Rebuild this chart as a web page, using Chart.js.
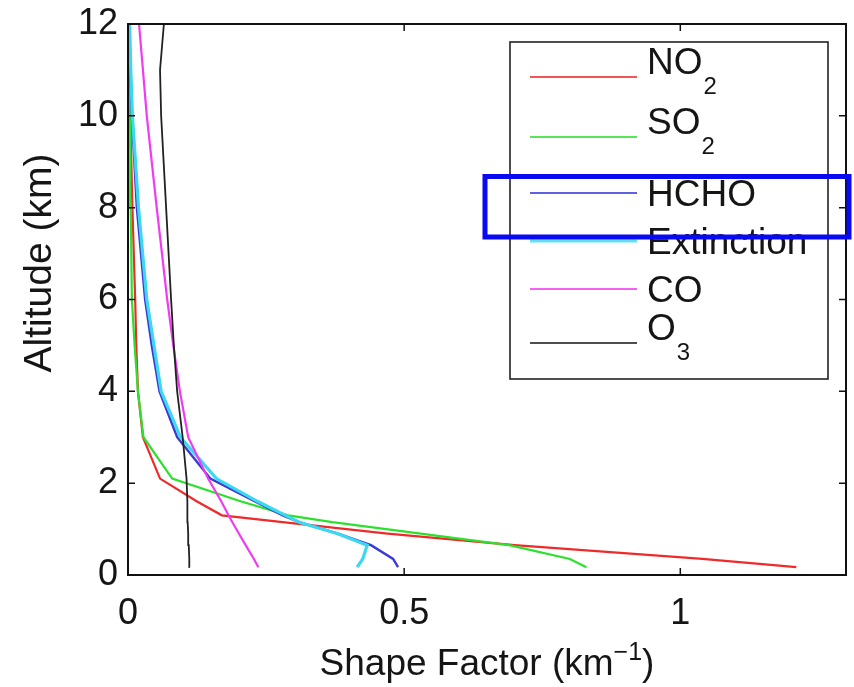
<!DOCTYPE html>
<html><head><meta charset="utf-8">
<script src="https://cdn.jsdelivr.net/npm/chart.js@4.4.0/dist/chart.umd.min.js"></script>
<style>html,body{margin:0;padding:0;background:#fff;overflow:hidden}#wrap{width:854px;height:687px;position:relative}canvas{display:block}</style>
</head><body><div id="wrap"><canvas id="c" width="854" height="687"></canvas></div>
<script>
// Altitude grid (km) shared by all profiles
const altitude   = [0.17, 0.35, 0.65, 0.9, 1.15, 1.3, 1.6, 2.1, 3.0, 4.0, 5.0, 6.0, 8.0, 10.0, 11.0, 12.0];
// Shape factor (km^-1) of each species at those altitudes
const no2        = [1.21, 1.04, 0.70, 0.47, 0.28, 0.17, 0.125, 0.058, 0.027, 0.018, 0.015, 0.013, 0.008, 0.004, 0.002, 0.001];
const so2        = [0.83, 0.80, 0.69, 0.53, 0.37, 0.29, 0.205, 0.080, 0.028, 0.018, 0.012, 0.007, 0.005, 0.004, 0.003, 0.003];
const hcho       = [0.489, 0.48, 0.44, 0.38, 0.31, 0.28, 0.23, 0.149, 0.089, 0.057, 0.043, 0.031, 0.016, 0.007, 0.004, 0.002];
const extinction = [0.415, 0.425, 0.433, 0.38, 0.31, 0.285, 0.235, 0.16, 0.095, 0.060, 0.047, 0.034, 0.019, 0.008, 0.005, 0.003];
const co         = [0.236, 0.228, 0.213, 0.201, 0.189, 0.182, 0.169, 0.145, 0.109, 0.094, 0.082, 0.071, 0.052, 0.034, 0.027, 0.020];
const o3         = [0.112, 0.111, 0.110, 0.109, 0.108, 0.108, 0.107, 0.106, 0.099, 0.089, 0.083, 0.078, 0.069, 0.060, 0.058, 0.065];

const seriesLabels = ['NO₂', 'SO₂', 'HCHO', 'Extinction', 'CO', 'O₃'];
const seriesValues = [no2, so2, hcho, extinction, co, o3];
const seriesColors = ['#ee2a2a', '#2ee02e', '#3a3ad8', '#3cd8f0', '#f03cf0', '#222222'];
const seriesWidths = [2.2, 2.2, 2.4, 3.2, 2.2, 1.8];

const xTicks = [0, 0.5, 1];
const yTicks = [0, 2, 4, 6, 8, 10, 12];
const xTitle = ['Shape Factor (km', '−1', ')'];
const yTitle = 'Altitude (km)';

const FONT = '"Liberation Sans", Arial, Helvetica, sans-serif';
Chart.defaults.font.family = FONT;

const subMap = {'₀':'0','₁':'1','₂':'2','₃':'3','₄':'4'};

function drawFrame(chart) {
  const ctx = chart.ctx, xs = chart.scales.x, ys = chart.scales.y;
  const left = Math.round(xs.getPixelForValue(xs.min)), right = Math.round(xs.getPixelForValue(xs.max));
  const top = Math.round(ys.getPixelForValue(ys.max)), bottom = Math.round(ys.getPixelForValue(ys.min));
  ctx.save();
  ctx.strokeStyle = '#111';
  ctx.lineWidth = 2;
  ctx.beginPath();
  ctx.moveTo(left, top); ctx.lineTo(right, top); ctx.lineTo(right, bottom);
  ctx.lineTo(left, bottom); ctx.closePath();
  ctx.stroke();
  ctx.lineWidth = 1.5;
  const L = 7;
  ctx.beginPath();
  xTicks.forEach(v => {
    const p = xs.getPixelForValue(v);
    ctx.moveTo(p, bottom); ctx.lineTo(p, bottom - L);
    ctx.moveTo(p, top); ctx.lineTo(p, top + L);
  });
  yTicks.forEach(v => {
    const p = ys.getPixelForValue(v);
    ctx.moveTo(left, p); ctx.lineTo(left + L, p);
    ctx.moveTo(right, p); ctx.lineTo(right - L, p);
  });
  ctx.stroke();
  ctx.restore();
}

const decor = {
  id: 'decor',
  afterDraw(chart) {
    drawFrame(chart);
    const ctx = chart.ctx, xs = chart.scales.x;
    ctx.save();
    // Legend
    const lx = 510, ly = 42, lw = 318, lh = 337;
    ctx.fillStyle = '#fff';
    ctx.fillRect(lx, ly, lw, lh);
    ctx.strokeStyle = '#222';
    ctx.lineWidth = 1.6;
    ctx.strokeRect(lx, ly, lw, lh);
    const rows = [35, 95, 151, 199, 247, 301];
    chart.data.datasets.forEach((ds, i) => {
      const ry = ly + rows[i];
      ctx.strokeStyle = ds.borderColor;
      ctx.globalAlpha = 0.8;
      ctx.lineWidth = i === 3 ? 3 : 2.2;
      ctx.beginPath(); ctx.moveTo(530, ry); ctx.lineTo(637, ry); ctx.stroke();
      ctx.globalAlpha = 1;
      ctx.fillStyle = '#151515';
      ctx.textAlign = 'left';
      ctx.textBaseline = 'alphabetic';
      const lab = ds.label;
      const last = lab[lab.length - 1];
      if (subMap[last]) {
        const main = lab.slice(0, -1);
        ctx.font = '37px ' + FONT;
        ctx.fillText(main, 647, ry - 3);
        const w = ctx.measureText(main).width;
        ctx.font = '24px ' + FONT;
        ctx.fillText(subMap[last], 647 + w + 1, ry + 17);
      } else {
        ctx.font = '37px ' + FONT;
        ctx.fillText(lab, 647, ry + 13);
      }
    });
    // X title with superscript
    ctx.fillStyle = '#151515';
    ctx.textBaseline = 'alphabetic';
    ctx.textAlign = 'left';
    ctx.font = '37px ' + FONT;
    const w1 = ctx.measureText(xTitle[0]).width;
    const w3 = ctx.measureText(xTitle[2]).width;
    ctx.font = '25px ' + FONT;
    const w2 = ctx.measureText(xTitle[1]).width;
    const total = w1 + w2 + w3;
    const cx = (xs.getPixelForValue(xs.min) + xs.getPixelForValue(xs.max)) / 2;
    let x0 = cx - total / 2;
    const base = 675;
    ctx.font = '37px ' + FONT;
    ctx.fillText(xTitle[0], x0, base);
    ctx.font = '25px ' + FONT;
    ctx.fillText(xTitle[1], x0 + w1, base - 15);
    ctx.font = '37px ' + FONT;
    ctx.fillText(xTitle[2], x0 + w1 + w2, base);
    // Y title
    ctx.save();
    ctx.translate(40, 263);
    ctx.rotate(-Math.PI / 2);
    ctx.font = '39px ' + FONT;
    ctx.textAlign = 'center';
    ctx.textBaseline = 'middle';
    ctx.fillText(yTitle, 0, 0);
    ctx.restore();
    // Highlight box around HCHO legend entry
    ctx.strokeStyle = '#0a0af2';
    ctx.lineWidth = 5;
    ctx.strokeRect(485, 176.5, 364, 60.5);
    ctx.restore();
  }
};

const datasets = seriesLabels.map((lab, i) => ({
  label: lab,
  data: altitude.map((alt, k) => ({x: seriesValues[i][k], y: alt})),
  borderColor: seriesColors[i],
  backgroundColor: seriesColors[i],
  borderWidth: seriesWidths[i],
  showLine: true,
  pointRadius: 0,
  tension: 0,
  fill: false,
  clip: false,
  order: -i
}));

new Chart(document.getElementById('c'), {
  type: 'scatter',
  data: { datasets },
  options: {
    responsive: false,
    animation: false,
    devicePixelRatio: 1,
    layout: { padding: { top: 24, right: 8, left: 0, bottom: 0 } },
    plugins: { legend: { display: false }, tooltip: { enabled: false } },
    scales: {
      x: {
        type: 'linear', min: 0, max: 1.3,
        grid: { display: false, drawTicks: false },
        border: { display: false },
        afterBuildTicks: s => { s.ticks = xTicks.map(v => ({ value: v })); },
        afterFit: s => { s.height = 112; s.paddingLeft = 0; s.paddingRight = 0; },
        ticks: { color: '#151515', font: { size: 36 }, padding: 17, maxRotation: 0,
                 callback: v => String(v) }
      },
      y: {
        type: 'linear', min: 0, max: 12,
        grid: { display: false, drawTicks: false },
        border: { display: false },
        afterBuildTicks: s => { s.ticks = yTicks.map(v => ({ value: v })); },
        afterFit: s => { s.width = 128; s.paddingTop = 0; s.paddingBottom = 0; },
        ticks: { color: '#151515', font: { size: 36 }, padding: 10,
                 callback: v => String(v) }
      }
    }
  },
  plugins: [decor]
});
</script>
</body></html>
